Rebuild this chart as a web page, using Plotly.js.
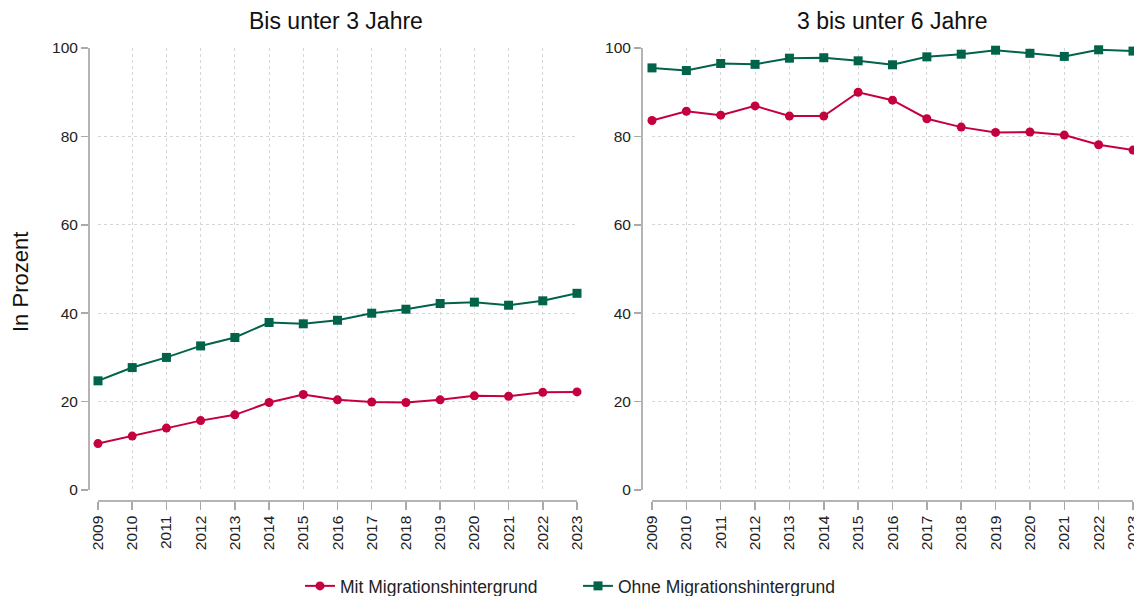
<!DOCTYPE html>
<html><head><meta charset="utf-8">
<script src="https://cdn.plot.ly/plotly-3.0.1.min.js"></script>
<style>body{margin:0;background:#fff}#chart{width:1134px;height:596px}</style>
</head><body><div id="chart"></div>
<script>
const years = [2009,2010,2011,2012,2013,2014,2015,2016,2017,2018,2019,2020,2021,2022,2023];
const u3_mit  = [10.5,12.2,14.0,15.7,17.0,19.8,21.6,20.4,19.9,19.8,20.4,21.3,21.2,22.1,22.2];
const u3_ohne = [24.7,27.7,30.0,32.6,34.5,37.9,37.6,38.4,40.0,40.9,42.2,42.5,41.8,42.8,44.5];
const u6_mit  = [83.6,85.7,84.8,86.9,84.6,84.6,90.0,88.2,84.0,82.1,80.9,81.0,80.3,78.1,76.9];
const u6_ohne = [95.5,94.9,96.5,96.3,97.7,97.8,97.1,96.2,98.0,98.6,99.5,98.8,98.1,99.6,99.3];
const panelTitles = ["Bis unter 3 Jahre","3 bis unter 6 Jahre"];
const seriesNames = ["Mit Migrationshintergrund","Ohne Migrationshintergrund"];
const yTitle = "In Prozent";

const RED = "#C5003E", GREEN = "#00634A";
const FONT = "Liberation Sans, Arial, sans-serif";

function tr(y, name, color, sym, xa, ya, show){
  return {x: years, y: y, name: name, type: "scatter", mode: "lines+markers",
    xaxis: xa, yaxis: ya, showlegend: show, cliponaxis: false,
    line: {color: color, width: 2},
    marker: {color: color, symbol: sym, size: 9}};
}
const data = [
  tr(u3_mit, seriesNames[0], RED, "circle", "x", "y", true),
  tr(u3_ohne, seriesNames[1], GREEN, "square", "x", "y", true),
  tr(u6_mit, seriesNames[0], RED, "circle", "x2", "y2", false),
  tr(u6_ohne, seriesNames[1], GREEN, "square", "x2", "y2", false)
];

const W = 1045, H = 460;
function xax(d0, d1){
  return {domain: [d0, d1], range: [2009, 2023], anchor: "free", position: 0,
    tickmode: "array", tickvals: years, ticktext: years.map(String), tickangle: -90,
    ticklabeloverflow: "allow",
    ticks: "outside", ticklen: 8, tickcolor: "#aaaaaa", tickwidth: 1.5,
    showline: true, linecolor: "#b4b4b4", linewidth: 1.5, zeroline: false,
    showgrid: true, gridcolor: "#d6d6d6", griddash: "dot", gridwidth: 1,
    tickfont: {family: FONT, size: 15.5, color: "#222"}, fixedrange: true};
}
function yax(pos){
  return {domain: [10/H, 452/H], range: [0, 100], anchor: "free", position: pos,
    tickvals: [0,20,40,60,80,100], ticks: "outside", ticklen: 7, tickcolor: "#aaaaaa", tickwidth: 1.5,
    showline: true, linecolor: "#b4b4b4", linewidth: 1.5, zeroline: false,
    showgrid: true, gridcolor: "#d6d6d6", griddash: "dot", gridwidth: 1,
    tickfont: {family: FONT, size: 15.5, color: "#222"}, fixedrange: true};
}
const layout = {
  width: 1134, height: 596,
  margin: {l: 88, r: 1, t: 40, b: 96, autoexpand: false},
  paper_bgcolor: "#fff", plot_bgcolor: "#fff",
  font: {family: FONT},
  xaxis: xax(10/W, 489/W),
  yaxis: yax(0),
  xaxis2: xax(564/W, 1.0),
  yaxis2: yax(553/W),
  showlegend: true,
  legend: {orientation: "h", x: (300-88)/W, xanchor: "left", y: -86/H, yanchor: "middle",
    entrywidth: 233, entrywidthmode: "pixels",
    font: {family: FONT, size: 17.5, color: "#222"}, itemwidth: 30, tracegroupgap: 0},
  annotations: [
    {text: panelTitles[0], xref: "paper", yref: "paper", x: (336-88)/W, y: (500-21)/H, xanchor: "center", yanchor: "middle", showarrow: false, font: {family: FONT, size: 23, color: "#111"}},
    {text: panelTitles[1], xref: "paper", yref: "paper", x: (892-88)/W, y: (500-21)/H, xanchor: "center", yanchor: "middle", showarrow: false, font: {family: FONT, size: 23, color: "#111"}},
    {text: yTitle, xref: "paper", yref: "paper", x: (20-88)/W, y: (500-282)/H, xanchor: "center", yanchor: "middle", textangle: -90, showarrow: false, font: {family: FONT, size: 22, color: "#111"}}
  ]
};
Plotly.newPlot("chart", data, layout, {staticPlot: true, displayModeBar: false});
</script></body></html>
